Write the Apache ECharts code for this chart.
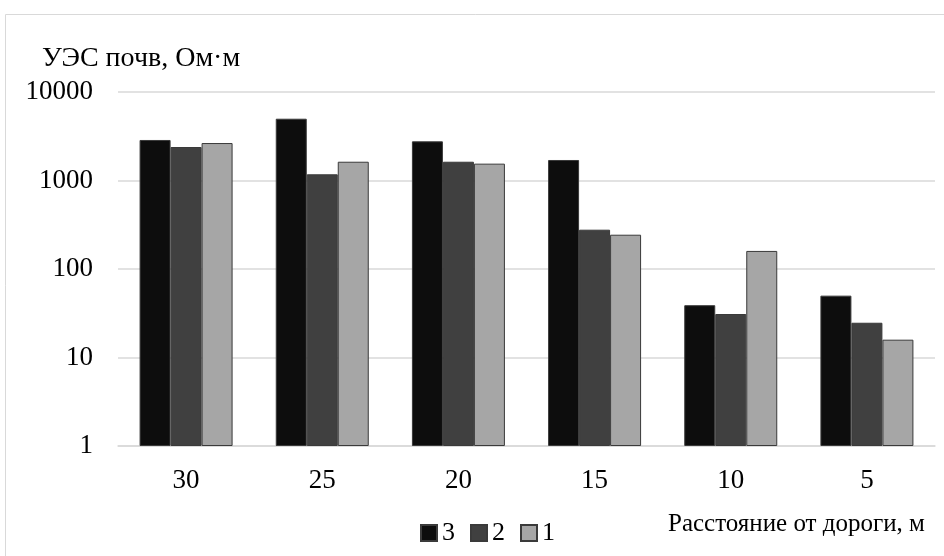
<!DOCTYPE html>
<html>
<head>
<meta charset="utf-8">
<script src="https://cdn.jsdelivr.net/npm/echarts@6/dist/echarts.min.js"></script>
<style>
  html, body { margin: 0; padding: 0; background: #fff; }
  #main { width: 944px; height: 556px; }
</style>
</head>
<body>
<div id="main"></div>
<script>
// расстояние от дороги, м
const distances = ['30', '25', '20', '15', '10', '5']
// УЭС почв, Ом·м
const series3 = [2870, 4990, 2770, 1705, 39, 50]
const series2 = [2390, 1175, 1630, 278, 31, 24.7]
const series1 = [2650, 1630, 1550, 244, 160, 15.9]
const yTicks = [1, 10, 100, 1000, 10000]

const font = '"Liberation Serif", "Times New Roman", serif'

const myChart = echarts.init(document.getElementById('main'))

const bar = (name, data, color) => ({
  name,
  type: 'bar',
  data,
  barWidth: 31,
  barGap: '0%',
  itemStyle: { color, borderColor: '#3a3a3a', borderWidth: 1 }
})

const option = {
  animation: false,
  textStyle: { fontFamily: font },
  graphic: [{
    type: 'rect',
    shape: { x: 5.5, y: 14.5, width: 1000, height: 600 },
    style: { fill: 'none', stroke: '#d9d9d9', lineWidth: 1 },
    silent: true
  }],
  title: [
    {
      text: 'УЭС почв, Ом·м',
      left: 37, top: 40,
      textStyle: { fontFamily: font, fontWeight: 'normal', fontSize: 28, color: '#000' }
    },
    {
      text: 'Расстояние от дороги, м',
      left: 663, top: 507,
      textStyle: { fontFamily: font, fontWeight: 'normal', fontSize: 25, color: '#000' }
    }
  ],
  legend: {
    left: 415, top: 515,
    itemWidth: 16, itemHeight: 16,
    itemGap: 15,
    icon: 'rect',
    textStyle: { fontFamily: font, fontSize: 26, color: '#000', padding: [0, 0, 0, 0] },
    data: ['3', '2', '1']
  },
  grid: { left: 118, right: 9, top: 92, bottom: 110 },
  xAxis: {
    type: 'category',
    data: distances,
    axisLine: { lineStyle: { color: '#d9d9d9', width: 1.5 } },
    axisTick: { show: false },
    axisLabel: { fontFamily: font, fontSize: 27, color: '#000', margin: 21 }
  },
  yAxis: {
    type: 'log',
    logBase: 10,
    min: yTicks[0],
    max: yTicks[yTicks.length - 1],
    axisLine: { show: false },
    axisTick: { show: false },
    splitLine: { lineStyle: { color: '#d9d9d9', width: 1.5 } },
    axisLabel: {
      fontFamily: font, fontSize: 27, color: '#000', margin: 25,
      formatter: (v) => String(v)
    }
  },
  series: [
    bar('3', series3, '#0d0d0d'),
    bar('2', series2, '#404040'),
    bar('1', series1, '#a6a6a6')
  ]
}

myChart.setOption(option)
</script>
</body>
</html>
